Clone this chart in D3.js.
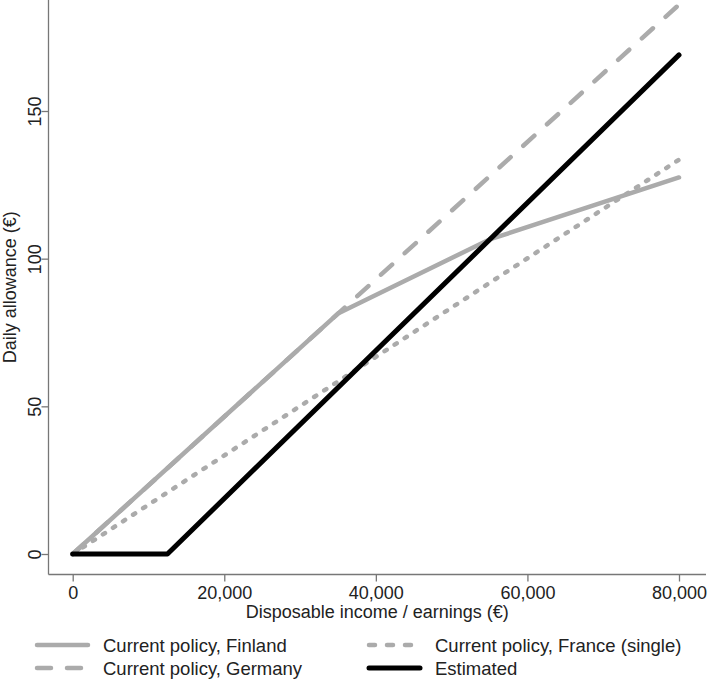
<!DOCTYPE html>
<html lang="en">
<head>
    <meta charset="UTF-8">
    <title>Daily allowance by income</title>
    <script src="https://d3js.org/d3.v7.min.js"></script>
    <style>
        body { margin: 0; background: white; }
        svg { display: block; font-family: "Liberation Sans", Arial, sans-serif; }
        .tick text { font-size: 18px; fill: #222; }
        .lab { font-size: 18px; fill: #222; }
        .leg { font-size: 18.5px; fill: #222; }
    </style>
</head>
<body>
    <div id="chart"></div>
    <script>
        // series data (income in €, daily allowance in €)
        var finland = [[0, 0], [35000, 81.4], [55000, 106.5], [80000, 127.5]];
        var germany = [[0, 0], [80000, 186]];
        var france = [[0, 0], [80000, 133.5]];
        var estimated = [[0, 0], [12500, 0], [80000, 169]];

        var xTicks = [0, 20000, 40000, 60000, 80000];
        var yTicks = [0, 50, 100, 150];

        var series = [
            { name: "Current policy, Finland", data: finland, color: "#ababab", width: 4.5, dash: null, legDash: null },
            { name: "Current policy, Germany", data: germany, color: "#ababab", width: 4.5, dash: "15,17", legDash: "14,16" },
            { name: "Current policy, France (single)", data: france, color: "#ababab", width: 4.5, dash: "2.5,9.5", legDash: "6,12" },
            { name: "Estimated", data: estimated, color: "#000", width: 5, dash: null, legDash: null }
        ];

        var W = 709, H = 681;
        var svg = d3.select("#chart").append("svg").attr("width", W).attr("height", H);

        var x = d3.scaleLinear().domain([0, 80000]).range([72.7, 679]);
        var y = d3.scaleLinear().domain([0, 150]).range([554, 111]);

        // plot region edges
        var plotL = 48.5, plotB = 574.5, plotR = 706, plotT = 0;
        var midY = (plotT + plotB) / 2;

        // x axis
        var xa = svg.append("g").attr("transform", "translate(0," + plotB + ")")
            .call(d3.axisBottom(x).tickValues(xTicks).tickSize(7).tickPadding(5)
                .tickFormat(d3.format(",")));
        xa.select(".domain").attr("d", "M" + plotL + ",0H" + plotR);
        xa.selectAll("line, .domain").attr("stroke", "#777").attr("stroke-width", 1.3);
        xa.selectAll("text").attr("font-family", null).attr("font-size", null);

        // y axis
        var ya = svg.append("g").attr("transform", "translate(" + plotL + ",0)")
            .call(d3.axisLeft(y).tickValues(yTicks).tickSize(7).tickPadding(3));
        ya.select(".domain").attr("d", "M0," + plotT + "V" + plotB);
        ya.selectAll("line, .domain").attr("stroke", "#777").attr("stroke-width", 1.3);
        ya.selectAll("text")
            .attr("font-family", null).attr("font-size", null)
            .attr("x", null).attr("dy", null)
            .attr("text-anchor", "middle")
            .attr("transform", "translate(-8,0) rotate(-90)");

        // axis titles
        svg.append("text").attr("class", "lab")
            .attr("x", (plotL + plotR) / 2).attr("y", 618)
            .attr("text-anchor", "middle")
            .text("Disposable income / earnings (€)");
        svg.append("text").attr("class", "lab")
            .attr("transform", "translate(16," + midY + ") rotate(-90)")
            .attr("text-anchor", "middle")
            .text("Daily allowance (€)");

        // lines
        var line = d3.line().x(function(d) { return x(d[0]); }).y(function(d) { return y(d[1]); });
        svg.append("g").selectAll("path")
            .data(series)
            .join("path")
            .attr("d", function(d) { return line(d.data); })
            .attr("fill", "none")
            .attr("stroke", function(d) { return d.color; })
            .attr("stroke-width", function(d) { return d.width; })
            .attr("stroke-dasharray", function(d) { return d.dash; })
            .attr("stroke-linecap", "round")
            .attr("stroke-linejoin", "round");

        // legend: two columns, two rows
        var legPos = [[35, 645], [35, 668], [367, 645], [367, 668]];
        var leg = svg.append("g").selectAll("g")
            .data(series)
            .join("g")
            .attr("transform", function(d, i) { return "translate(" + legPos[i][0] + "," + legPos[i][1] + ")"; });
        leg.append("line")
            .attr("x1", 2).attr("x2", 53)
            .attr("stroke", function(d) { return d.color; })
            .attr("stroke-width", function(d) { return d.width; })
            .attr("stroke-dasharray", function(d) { return d.legDash; })
            .attr("stroke-linecap", "round");
        leg.append("text").attr("class", "leg")
            .attr("x", 68).attr("y", 6.5)
            .text(function(d) { return d.name; });
    </script>
</body>
</html>
